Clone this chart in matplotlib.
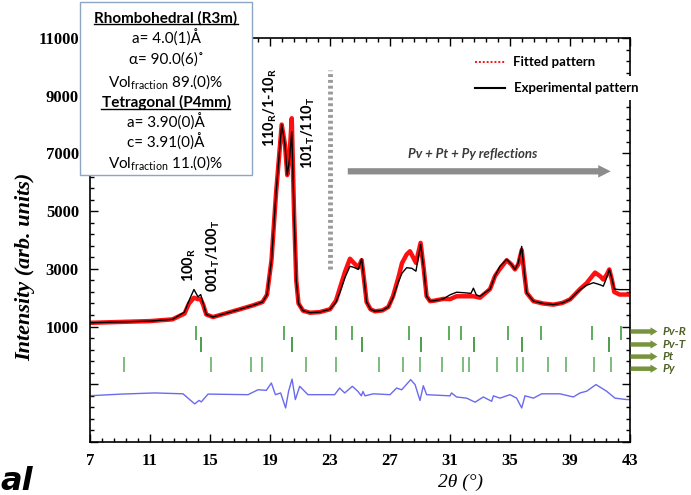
import matplotlib
matplotlib.use("Agg")
import numpy as np
import matplotlib.pyplot as plt
from matplotlib.patches import Rectangle
from matplotlib.lines import Line2D
from matplotlib.ticker import FixedLocator, FuncFormatter
from matplotlib.transforms import blended_transform_factory

plt.rcParams.update({
    "mathtext.fontset": "custom",
    "mathtext.rm": "Lato",
    "mathtext.bf": "Lato:bold",
    "mathtext.it": "Lato:italic",
})

# experimental pattern (black)
exp_x = [7, 9, 11, 12.5, 13.3, 13.6, 13.93, 14.2, 14.38, 14.55, 14.75, 15.2, 16, 17,
         17.9, 18.5, 18.8, 19.1, 19.4, 19.78, 20.0, 20.15, 20.3, 20.45, 20.6, 20.75,
         20.9, 21.2, 21.67, 22.3, 23, 23.4, 23.67, 24.0, 24.33, 24.6, 24.89, 25.11,
         25.3, 25.44, 25.7, 26.0, 26.5, 26.89, 27.2, 27.56, 27.8, 28.11, 28.45, 28.73,
         29.04, 29.25, 29.44, 29.67, 30.0, 30.56, 31.0, 31.44, 32.0, 32.4, 32.56, 32.75,
         33.0, 33.67, 34.0, 34.33, 34.78, 35.1, 35.33, 35.55, 35.78, 35.95, 36.11, 36.56,
         37.2, 37.89, 38.5, 39.0, 39.67, 40.1, 40.56, 41.0, 41.22, 41.45, 41.62, 41.8,
         41.95, 42.3, 43.0]
exp_y = [1130, 1160, 1190, 1250, 1500, 1900, 2285, 2030, 2110, 1800, 1420, 1330, 1450, 1600,
         1740, 1850, 2100, 3300, 5600, 8000, 7300, 6250, 6800, 7750, 5000, 2600,
         1800, 1550, 1480, 1500, 1600, 1850, 2200, 2700, 3090, 3050, 2980, 3350,
         2500, 1850, 1600, 1530, 1560, 1680, 2000, 2550, 2850, 3040, 3020, 2920,
         3850, 3000, 2050, 1880, 1900, 1960, 2100, 2190, 2170, 2150, 2330, 2100,
         2050, 2300, 2750, 3090, 3330, 3150, 2980, 3200, 3780, 2900, 2170, 1880,
         1800, 1760, 1820, 1940, 2280, 2430, 2520, 2450, 2400, 2700, 2980, 2650,
         2300, 2280, 2280]

# fitted pattern (red)
fit_x = [7, 9, 11, 12.5, 13.3, 13.6, 13.93, 14.2, 14.38, 14.55, 14.75, 15.2, 16, 17,
         17.9, 18.5, 18.8, 19.1, 19.4, 19.78, 20.0, 20.15, 20.3, 20.45, 20.6, 20.75,
         20.9, 21.2, 21.67, 22.3, 23, 23.4, 23.67, 24.0, 24.33, 24.6, 24.89, 25.11,
         25.3, 25.44, 25.7, 26.0, 26.5, 26.89, 27.2, 27.56, 27.8, 28.11, 28.33, 28.73,
         29.04, 29.25, 29.44, 29.67, 30.0, 30.56, 31.0, 31.44, 32.0, 32.56, 32.75,
         33.0, 33.67, 34.0, 34.33, 34.78, 35.1, 35.33, 35.55, 35.78, 35.95, 36.11, 36.56,
         37.2, 37.89, 38.5, 39.0, 39.67, 40.1, 40.56, 40.67, 41.0, 41.22, 41.45, 41.62,
         41.8, 41.95, 42.3, 43.0]
fit_y = [1130, 1160, 1190, 1250, 1450, 1800, 2000, 1950, 1950, 1750, 1420, 1330, 1450, 1600,
         1740, 1850, 2100, 3300, 5600, 8000, 7300, 6250, 6900, 8220, 5000, 2600,
         1800, 1550, 1480, 1500, 1600, 1900, 2350, 2900, 3350, 3200, 3050, 3300,
         2500, 1850, 1600, 1530, 1560, 1680, 2050, 2700, 3200, 3500, 3610, 3210,
         3900, 3000, 2050, 1880, 1900, 1960, 1950, 2050, 2050, 2050, 2030,
         2000, 2300, 2750, 3000, 3300, 3150, 2980, 3150, 3650, 2850, 2170, 1880,
         1800, 1760, 1820, 1940, 2300, 2500, 2800, 2870, 2750, 2630, 2800, 2980,
         2600, 2200, 2110, 2110]

# difference curve (blue)
diff_x = [7, 9.09, 11.31, 13.2, 13.98, 14.27, 14.42, 14.87, 17.53, 18.2, 18.76, 19.09,
          19.36, 19.71, 20.04, 20.24, 20.47, 20.69, 20.98, 21.53, 22.42, 23.31, 23.64,
          23.98, 24.49, 24.87, 25.09, 25.2, 25.33, 25.89, 27.0, 27.44, 27.78, 28.38,
          28.67, 29.0, 29.22, 29.44, 31.0, 31.1, 31.44, 32.11, 32.67, 33.22, 33.78,
          33.89, 34.33, 35.0, 35.44, 35.78, 36.0, 36.56, 37.11, 38.33, 39.22, 39.67,
          40.11, 40.73, 41.44, 42.0, 42.78, 43.0]
diff_y = [-1396, -1340, -1300, -1330, -1680, -1560, -1610, -1340, -1360, -1190, -1210, -955,
          -1360, -1300, -1820, -1240, -820, -1530, -1070, -1360, -1360, -1360, -1130,
          -1300, -1070, -1250, -1400, -1250, -1400, -1330, -1360, -1130, -1190, -840,
          -1010, -1560, -1050, -1360, -1400, -1300, -1440, -1480, -1620, -1440, -1590,
          -1400, -1480, -1360, -1480, -1820, -1400, -1480, -1330, -1330, -1440, -1300,
          -1240, -1010, -1240, -1480, -1530, -1530]

# Bragg reflection positions per phase
pv_r = [14.05, 19.93, 23.4, 24.47, 28.27, 30.93, 31.73, 34.87, 37.07, 40.47, 42.4]
pv_t = [14.42, 20.47, 25.13, 29.07, 32.6, 35.8, 41.6]
pt_py = [9.25, 15.09, 17.71, 18.49, 21.42, 23.38, 26.29, 27.89, 29.0, 30.45, 31.85,
         32.29, 34.11, 35.45, 35.85, 37.51, 38.71, 40.62, 41.71]
phase_names = ["Pv-R", "Pv-T", "Pt", "Py"]
phase_label_y = [830, 380, -40, -460]

box_lines = [
    ("Rhombohedral (R3m)", True),
    ("a= 4.0(1)Å", False),
    ("α= 90.0(6)˚", False),
    (r"Vol$_{\mathrm{fraction}}$ 89.(0)%", False),
    ("Tetragonal (P4mm)", True),
    ("a= 3.90(0)Å", False),
    ("c= 3.91(0)Å", False),
    (r"Vol$_{\mathrm{fraction}}$ 11.(0)%", False),
]

W, H = 691, 495
fig = plt.figure(figsize=(W / 100, H / 100), dpi=100)
ax = fig.add_axes([90 / W, 1 - 442 / H, 540 / W, 404 / H])

ax.plot(fit_x, fit_y, color="#ff1010", lw=3.2, solid_capstyle="round", zorder=2)
ax.plot(exp_x, exp_y, color="black", lw=1.0, zorder=3)
ax.plot(diff_x, diff_y, color="#6a6aee", lw=1.0, zorder=2)

ax.vlines(pv_r, 550, 1030, color="#4fa64f", lw=1.3)
ax.vlines(pv_t, 130, 650, color="#3c963c", lw=1.3)
ax.vlines(pt_py, -560, -40, color="#66b266", lw=1.2)

ax.set_xlim(7, 43)
ax.set_ylim(-3000, 11000)
ax.xaxis.set_major_locator(FixedLocator(np.arange(7, 43.1, 4)))
ax.xaxis.set_minor_locator(FixedLocator(np.arange(7, 43.01, 0.8)))
ax.yaxis.set_major_locator(FixedLocator(np.arange(-3000, 11001, 2000)))
ax.yaxis.set_minor_locator(FixedLocator(np.arange(-3000, 11001, 400)))
ax.xaxis.set_major_formatter(FuncFormatter(lambda v, p: f"{v:.0f}"))
ax.yaxis.set_major_formatter(FuncFormatter(lambda v, p: f"{v:.0f}" if v > 0 else ""))
ax.tick_params(which="both", direction="in", top=True, right=True, width=1.0)
ax.tick_params(which="major", length=6, pad=8)
ax.tick_params(which="minor", length=3)
for lab in ax.get_xticklabels() + ax.get_yticklabels():
    lab.set_fontfamily("Liberation Serif")
    lab.set_fontweight("bold")
    lab.set_fontsize(12)
for s in ax.spines.values():
    s.set_linewidth(1.2)

fig.text(25 / W, 1 - 267 / H, "Intensity (arb. units)", rotation=90,
         family="Liberation Serif", weight="bold", style="italic", fontsize=16,
         ha="center", va="center")
fig.text(461 / W, 1 - 482 / H, "2θ (°)", family="Liberation Serif", style="italic",
         fontsize=14, ha="center", va="center")

# peak indexing
lab_kw = dict(rotation=90, ha="center", va="bottom", fontsize=10.5,
              family="Lato", weight="bold")
ax.text(13.6, 2560, r"100$_\mathbf{R}$", **lab_kw)
ax.text(15.2, 2215, r"001$_\mathbf{T}$/100$_\mathbf{T}$", **lab_kw)
ax.text(19.0, 7215, r"110$_\mathbf{R}$/1-10$_\mathbf{R}$", **lab_kw)
ax.text(21.55, 6450, r"101$_\mathbf{T}$/110$_\mathbf{T}$", **lab_kw)

# region of the secondary phases
ax.plot([23, 23], [3000, 9900], color="#9a9a9a", lw=3.5, ls=(0, (0.6, 0.6)), zorder=1)
ax.annotate("", xy=(41.9, 6380), xytext=(24, 6380),
            arrowprops=dict(arrowstyle="simple,head_length=0.9,head_width=0.9,tail_width=0.45",
                            color="#8c8c8c", lw=0))
ax.text(32.5, 6970, "Pv + Pt + Py reflections", ha="center", va="center",
        family="Lato", weight="bold", style="italic", fontsize=9.5, color="#3a3a3a")

# legend
legend_tf = fig.transFigure
fig.add_artist(Line2D([475 / W, 505 / W], [1 - 62 / H] * 2, color="#ff1010", lw=1.4,
                      ls=(0, (1, 1)), transform=legend_tf))
fig.add_artist(Line2D([475 / W, 505 / W], [1 - 88 / H] * 2, color="black", lw=1.5,
                      transform=legend_tf))
fig.text(513 / W, 1 - 62 / H, "Fitted pattern", family="Lato", weight="bold",
         fontsize=9.5, va="center")
fig.text(514 / W, 1 - 88 / H, "Experimental pattern", family="Lato", weight="bold",
         fontsize=9.5, va="center",
         bbox=dict(fc="white", ec="none", pad=4), zorder=5)

# phase markers beside the right axis
btf = blended_transform_factory(ax.transAxes, ax.transData)
for name, y in zip(phase_names, phase_label_y):
    ax.annotate("", xy=(1.056, y), xytext=(0.996, y), xycoords=btf, textcoords=btf,
                annotation_clip=False,
                arrowprops=dict(arrowstyle="simple,head_length=0.5,head_width=0.6,tail_width=0.32",
                                color="#77933c", lw=0))
    ax.text(1.061, y, name, transform=btf, ha="left", va="center", clip_on=False,
            family="Lato", weight="bold", style="italic", fontsize=8.5, color="#4f6228")

# lattice parameter box
fig.add_artist(Rectangle((80 / W, 1 - 175 / H), 172 / W, 173 / H, transform=fig.transFigure,
                         fc="white", ec="#8ea6c4", lw=1.0, zorder=6))
box_y = [18, 38, 60, 82, 102, 122, 142, 163]
heads = []
for (txt, head), py in zip(box_lines, box_y):
    t = fig.text(166 / W, 1 - py / H, txt, ha="center", va="center", fontsize=11,
                 family=["Lato", "DejaVu Sans"], weight="bold" if head else "normal",
                 zorder=7)
    if head:
        heads.append(t)

fig.canvas.draw()
inv = fig.transFigure.inverted()
for t in heads:
    bb = t.get_window_extent()
    (x0, y0), (x1, _) = inv.transform([(bb.x0, bb.y0), (bb.x1, bb.y1)])
    fig.add_artist(Line2D([x0, x1], [y0 + 1 / H, y0 + 1 / H], color="black", lw=1.0,
                          transform=fig.transFigure, zorder=7))

# fragment of the neighbouring panel title
fig.text(0, 1 - 490 / H, "al", family="DejaVu Sans", weight="bold", style="italic",
         fontsize=23, ha="left", va="baseline")

fig.savefig("out.png", dpi=100)
